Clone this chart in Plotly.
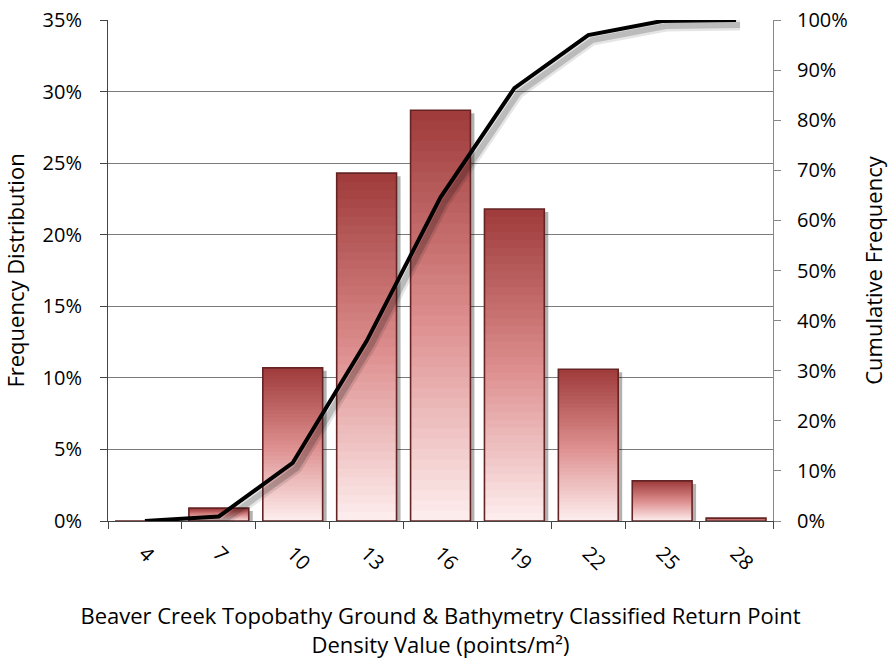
import plotly.graph_objects as go

# ---- data ----
categories = ["4", "7", "10", "13", "16", "19", "22", "25", "28"]
freq_pct = [0.0, 0.9, 10.7, 24.3, 28.7, 21.8, 10.6, 2.8, 0.2]        # left axis (%)
cum_pct = [0.0, 0.9, 11.6, 35.9, 64.6, 86.4, 97.0, 99.8, 100.0]      # right axis (%)
y_ticks_left = [0, 5, 10, 15, 20, 25, 30, 35]
y_ticks_right = [0, 10, 20, 30, 40, 50, 60, 70, 80, 90, 100]

FONT = "Open Sans"
N_SEG = 40
BAR_W = 0.81
top_rgb = (158, 58, 58)
mid_rgb = (220, 140, 140)
bot_rgb = (254, 238, 238)


def lerp(a, b, t):
    return tuple(int(round(a[i] + (b[i] - a[i]) * t)) for i in range(3))


def grad_color(t):  # t=0 bottom, t=1 top
    if t < 0.5:
        c = lerp(bot_rgb, mid_rgb, t / 0.5)
    else:
        c = lerp(mid_rgb, top_rgb, (t - 0.5) / 0.5)
    return "rgb(%d,%d,%d)" % c


fig = go.Figure()

# 1) bar shadow on the (hidden, shifted) base axes -> drawn first
fig.add_trace(go.Bar(
    x=categories, y=freq_pct, xaxis="x", yaxis="y",
    marker=dict(color="rgba(0,0,0,0.30)", line=dict(width=0)),
    width=BAR_W, hoverinfo="skip", showlegend=False))

# 2) gradient bars built from overlapping stacked segments (visible axes x2/y2)
for k in range(N_SEG):
    t = (k + 0.5) / N_SEG
    h = 1.0 if k == N_SEG - 1 else 2.0
    fig.add_trace(go.Bar(
        x=categories,
        y=[v * h / N_SEG for v in freq_pct],
        base=[v * k / N_SEG for v in freq_pct],
        xaxis="x2", yaxis="y2",
        marker=dict(color=grad_color(t), line=dict(width=0)),
        width=BAR_W, hoverinfo="skip", showlegend=False))

# bar outline
fig.add_trace(go.Bar(
    x=categories, y=freq_pct, xaxis="x2", yaxis="y2",
    marker=dict(color="rgba(0,0,0,0)", line=dict(color="rgb(100,36,36)", width=1.6)),
    width=BAR_W, showlegend=False))

# 3) line shadow (hidden shifted axes x3/y3)
fig.add_trace(go.Scatter(
    x=categories, y=cum_pct, xaxis="x3", yaxis="y3", mode="lines",
    line=dict(color="rgba(0,0,0,0.10)", width=11), hoverinfo="skip", showlegend=False))
fig.add_trace(go.Scatter(
    x=categories, y=cum_pct, xaxis="x3", yaxis="y3", mode="lines",
    line=dict(color="rgba(0,0,0,0.18)", width=6), hoverinfo="skip", showlegend=False))

# 4) cumulative line (x4 hidden, y4 visible right axis)
fig.add_trace(go.Scatter(
    x=categories, y=cum_pct, xaxis="x4", yaxis="y4", mode="lines",
    line=dict(color="black", width=4), showlegend=False))

# shadow offsets in pixels -> axis range shifts
plot_w, plot_h = 665, 501
dx_bar = 4 / plot_w * 9
dy_bar = 3 / plot_h * 35
dx_line = 4 / plot_w * 9
dy_line = 5 / plot_h * 100

hidden = dict(visible=False, showgrid=False, zeroline=False, automargin=False)

fig.update_layout(
    width=888, height=661,
    margin=dict(l=108, r=115, t=20, b=140),
    paper_bgcolor="white", plot_bgcolor="white",
    barmode="overlay",
    font=dict(family=FONT, size=20, color="black"),
    xaxis=dict(type="category", range=[-0.5 - dx_bar, 8.5 - dx_bar], **hidden),
    yaxis=dict(range=[dy_bar, 35 + dy_bar], **hidden),
    xaxis2=dict(
        type="category", overlaying="x", range=[-0.5, 8.5], automargin=False,
        tickangle=45, ticks="outside", tickson="boundaries", ticklen=7,
        tickcolor="#444", showline=True, linecolor="#444", linewidth=1,
        showgrid=False, ticklabelstandoff=12, ticklabeloverflow="allow",
        tickfont=dict(size=20),
        title=dict(text="Beaver Creek Topobathy Ground & Bathymetry Classified Return Point<br>Density Value (points/m²)",
                   font=dict(size=22), standoff=34),
    ),
    yaxis2=dict(
        overlaying="y", side="left", range=[0, 35], automargin=False,
        tickvals=y_ticks_left, ticktext=["%d%%" % v for v in y_ticks_left],
        ticks="outside", ticklen=7, tickcolor="#444",
        showline=True, linecolor="#444", linewidth=1, ticklabelstandoff=14,
        ticklabeloverflow="allow",
        showgrid=True, gridcolor="#7a7a7a", gridwidth=1, zeroline=False,
        title=dict(text="Frequency Distribution", font=dict(size=22), standoff=18),
        tickfont=dict(size=20),
    ),
    xaxis3=dict(type="category", overlaying="x", range=[-0.5 - dx_line, 8.5 - dx_line], **hidden),
    yaxis3=dict(overlaying="y", range=[dy_line, 100 + dy_line], **hidden),
    xaxis4=dict(type="category", overlaying="x", range=[-0.5, 8.5], **hidden),
    yaxis4=dict(
        overlaying="y", side="right", range=[0, 100], automargin=False,
        tickvals=y_ticks_right, ticktext=["%d%%" % v for v in y_ticks_right],
        ticks="outside", ticklen=7, tickcolor="#888",
        showline=True, linecolor="#888", linewidth=1, ticklabelstandoff=12,
        ticklabeloverflow="allow",
        showgrid=False, zeroline=False,
        title=dict(text="Cumulative Frequency", font=dict(size=22), standoff=24),
        tickfont=dict(size=20),
    ),
)

fig.write_html(
    "out.html",
    config={"displayModeBar": False},
    post_script="document.body.style.margin='0px';document.body.style.overflow='hidden';",
)
